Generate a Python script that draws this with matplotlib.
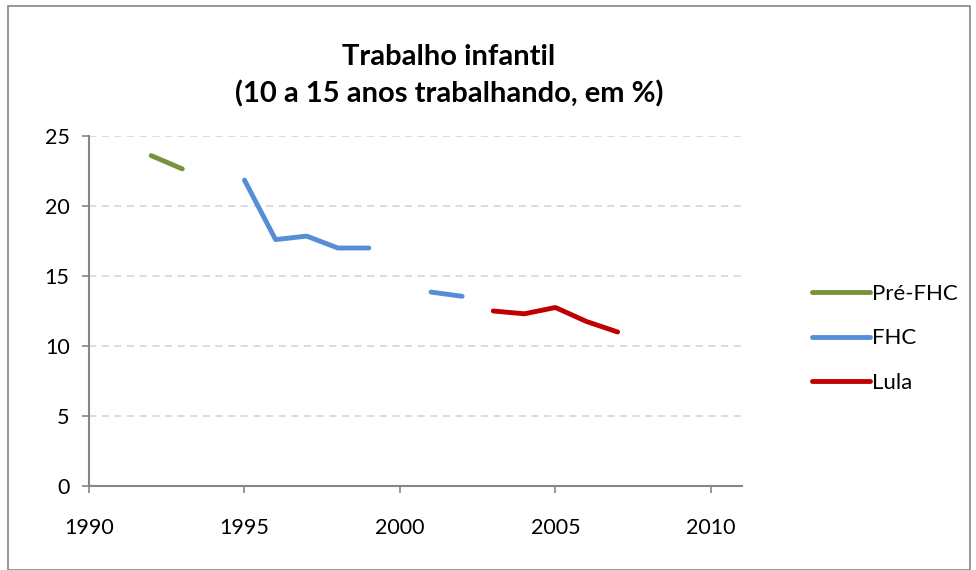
import matplotlib
matplotlib.use("Agg")
import matplotlib.pyplot as plt
from matplotlib.patches import Rectangle

plt.rcParams['font.family'] = ['Lato', 'DejaVu Sans']

# series (percent of 10-15 year olds working)
anos_pre = [1992, 1993]
vals_pre = [23.6, 22.65]

anos_fhc = [1995, 1996, 1997, 1998, 1999, 2000, 2001, 2002]
vals_fhc = [21.85, 17.6, 17.85, 17.0, 17.0, None, 13.85, 13.55]

anos_lula = [2003, 2004, 2005, 2006, 2007]
vals_lula = [12.5, 12.3, 12.75, 11.75, 11.0]

xticks = [1990, 1995, 2000, 2005, 2010]
yticks = [0, 5, 10, 15, 20, 25]

fig = plt.figure(figsize=(9.76, 5.70), dpi=100)
ax = fig.add_axes([89/976, 1 - 486/570, (742-89)/976, (486-136)/570])

def nan(v):
    return [float('nan') if x is None else x for x in v]

ax.plot(anos_pre, vals_pre, color='#77933C', lw=3.5, solid_capstyle='round', label='Pré-FHC')
ax.plot(anos_fhc, nan(vals_fhc), color='#558ED5', lw=3.5, solid_capstyle='round', label='FHC')
ax.plot(anos_lula, vals_lula, color='#C00000', lw=3.5, solid_capstyle='round', label='Lula')

ax.set_xlim(1990, 2011)
ax.set_ylim(0, 25)
ax.set_xticks(xticks)
ax.set_yticks(yticks)
ax.grid(axis='y', color='#D9D9D9', ls=(0, (4, 3)), lw=1.3)
ax.set_axisbelow(True)
for s in ['top', 'right']:
    ax.spines[s].set_visible(False)
for s in ['left', 'bottom']:
    ax.spines[s].set_color('#868686')
    ax.spines[s].set_linewidth(1.5)
ax.tick_params(axis='both', colors='#868686', width=1.2, length=5, labelsize=15.5,
               labelcolor='black')
ax.tick_params(axis='x', pad=18)
ax.tick_params(axis='y', pad=9)

fig.text(449/976, 1 - 76/570, 'Trabalho infantil\n(10 a 15 anos trabalhando, em %)',
         ha='center', va='center', fontsize=21, fontweight='bold', linespacing=1.45)

leg = ax.legend(loc='upper left', bbox_to_anchor=(792/976, 1 - 264/570),
                bbox_transform=fig.transFigure, frameon=False, fontsize=16,
                handlelength=2.6, handletextpad=0.1, labelspacing=1.1)

fig.patches.append(Rectangle((8/976, 0), 962/976, 1 - 6/570, transform=fig.transFigure,
                             fill=False, edgecolor='#868686', lw=1.2))

fig.savefig('out.png', dpi=100)
